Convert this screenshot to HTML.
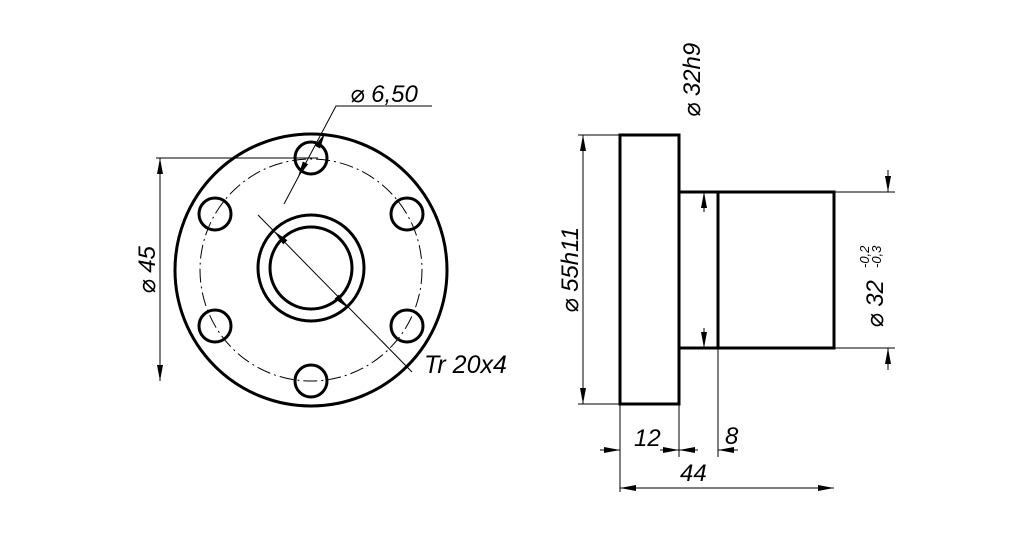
<!DOCTYPE html>
<html><head><meta charset="utf-8"><style>
html,body{margin:0;padding:0;background:#fff;}
svg{display:block;}
text{font-family:"Liberation Sans","DejaVu Sans",sans-serif;font-style:italic;fill:#000;}
</style></head><body>
<svg width="1024" height="539" viewBox="0 0 1024 539" xmlns="http://www.w3.org/2000/svg">
<defs>
<g id="ar"><polygon points="0,0 -16,-3 -16,3" fill="#000"/></g>
</defs>
<!-- LEFT VIEW -->
<g fill="none" stroke="#000">
<circle cx="311" cy="270" r="136" stroke-width="3"/>
<circle cx="311" cy="270" r="111" stroke-width="1" stroke-dasharray="14,4,2,4"/>
<circle cx="311" cy="158" r="16" stroke-width="3"/>
<circle cx="311" cy="381" r="16" stroke-width="3"/>
<circle cx="215" cy="214" r="16" stroke-width="3"/>
<circle cx="407" cy="214" r="16" stroke-width="3"/>
<circle cx="215" cy="326" r="16" stroke-width="3"/>
<circle cx="407" cy="326" r="16" stroke-width="3"/>
<circle cx="311" cy="268" r="53" stroke-width="3"/>
<circle cx="311" cy="268" r="41" stroke-width="3"/>
<line x1="156" y1="158" x2="318" y2="158" stroke-width="1"/>
<line x1="160" y1="158" x2="160" y2="381" stroke-width="1"/>
<polyline points="284,204 336,106 432,106" stroke-width="1"/>
<line x1="258" y1="215" x2="412" y2="372" stroke-width="1"/>
</g>
<use href="#ar" transform="translate(160,158) rotate(-90)"/>
<use href="#ar" transform="translate(160,381) rotate(90)"/>
<use href="#ar" transform="translate(325,133) rotate(-62)"/>
<use href="#ar" transform="translate(298,177) rotate(118)"/>
<use href="#ar" transform="translate(274,231) rotate(225)"/>
<use href="#ar" transform="translate(348,308) rotate(45)"/>
<text x="350" y="102" font-size="24">⌀ 6,50</text>
<text x="424" y="373" font-size="25">Tr 20x4</text>
<text transform="translate(155,270) rotate(-90)" text-anchor="middle" font-size="24">⌀ 45</text>

<!-- RIGHT VIEW -->
<g fill="none" stroke="#000">
<rect x="620" y="135" width="59" height="269" stroke-width="3"/>
<rect x="679" y="192" width="39" height="156" stroke-width="3"/>
<rect x="718" y="192" width="116" height="156" stroke-width="3"/>
<g stroke-width="1">
<line x1="578" y1="135" x2="620" y2="135"/>
<line x1="578" y1="404" x2="620" y2="404"/>
<line x1="583" y1="135" x2="583" y2="404"/>
<line x1="834" y1="192" x2="895" y2="192"/>
<line x1="834" y1="348" x2="895" y2="348"/>
<line x1="888" y1="170" x2="888" y2="192"/>
<line x1="888" y1="348" x2="888" y2="370"/>
<line x1="704" y1="192" x2="704" y2="212"/>
<line x1="704" y1="328" x2="704" y2="348"/>
<line x1="620" y1="404" x2="620" y2="492"/>
<line x1="679" y1="404" x2="679" y2="457"/>
<line x1="718" y1="348" x2="718" y2="457"/>
<line x1="600" y1="450" x2="620" y2="450"/>
<line x1="660" y1="450" x2="698" y2="450"/>
<line x1="718" y1="450" x2="738" y2="450"/>
<line x1="620" y1="488" x2="834" y2="488"/>
</g>
</g>
<use href="#ar" transform="translate(583,135) rotate(-90)"/>
<use href="#ar" transform="translate(583,404) rotate(90)"/>
<use href="#ar" transform="translate(888,192) rotate(90)"/>
<use href="#ar" transform="translate(888,348) rotate(-90)"/>
<use href="#ar" transform="translate(704,192) rotate(-90)"/>
<use href="#ar" transform="translate(704,348) rotate(90)"/>
<use href="#ar" transform="translate(620,450)"/>
<use href="#ar" transform="translate(679,450)"/>
<use href="#ar" transform="translate(679,450) rotate(180)"/>
<use href="#ar" transform="translate(718,450) rotate(180)"/>
<use href="#ar" transform="translate(620,488) rotate(180)"/>
<use href="#ar" transform="translate(834,488)"/>
<text transform="translate(578,270) rotate(-90)" text-anchor="middle" font-size="24">⌀ 55h11</text>
<text transform="translate(700,80) rotate(-90)" text-anchor="middle" font-size="24">⌀ 32h9</text>
<text transform="translate(883,304) rotate(-90)" text-anchor="middle" font-size="24">⌀ 32</text>
<text transform="translate(869,268) rotate(-90)" font-size="13">-0,2</text>
<text transform="translate(881,268) rotate(-90)" font-size="13">-0,3</text>
<text x="634" y="446" font-size="24">12</text>
<text x="725" y="444" font-size="24">8</text>
<text x="680" y="481" font-size="24">44</text>
</svg>
</body></html>
